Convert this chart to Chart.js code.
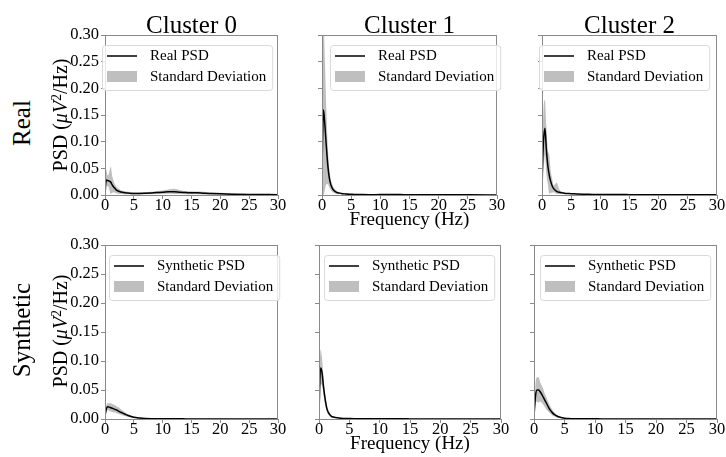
<!DOCTYPE html>
<html>
<head>
<meta charset="utf-8">
<script src="https://cdn.jsdelivr.net/npm/chart.js@4.4.1/dist/chart.umd.min.js"></script>
<style>
  body { margin: 0; background: #fff; }
  #fig { position: relative; width: 726px; height: 457px; overflow: hidden;
         font-family: "Liberation Serif", "Times New Roman", serif; color: #000; }
  #fig canvas { position: absolute; }
  .lbl { position: absolute; white-space: nowrap; line-height: 1; transform: translate(-50%, -50%); }
  .rot { transform: translate(-50%, -50%) rotate(-90deg); }
  .lbl sup { font-size: 0.68em; vertical-align: 0.45em; line-height: 0; }
</style>
</head>
<body>
<div id="fig"></div>
<script>
// frequency bins (Hz)
const freqs = [0, 0.25, 0.5, 0.75, 1, 1.25, 1.5, 1.75, 2, 2.5, 3, 3.5, 4, 5, 6, 7, 8, 9, 10,
  11, 12, 13, 14, 15, 16, 17, 18, 20, 22, 25, 30];

// Real PSD, mean and mean +/- std, per cluster
const real0Mean = [0.012, 0.028, 0.027, 0.026, 0.024, 0.019, 0.015, 0.012, 0.009, 0.0065, 0.005, 0.0042, 0.0037, 0.003, 0.003, 0.0033, 0.0038, 0.0045, 0.005,
  0.006, 0.006, 0.005, 0.0045, 0.004, 0.004, 0.0035, 0.003, 0.0022, 0.0016, 0.001, 0.0006];
const real0Upper = [0.05, 0.046, 0.036, 0.044, 0.053, 0.036, 0.026, 0.019, 0.015, 0.011, 0.008, 0.007, 0.006, 0.005, 0.005, 0.0055, 0.006, 0.0075, 0.0085,
  0.0105, 0.0115, 0.009, 0.0075, 0.007, 0.0065, 0.006, 0.005, 0.004, 0.003, 0.002, 0.001];
const real0Lower = [0, 0.01, 0.018, 0.01, 0.002, 0.004, 0.005, 0.004, 0.003, 0.002, 0.002, 0.0015, 0.0015, 0.001, 0.001, 0.0012, 0.0015, 0.0018, 0.002,
  0.0022, 0.002, 0.0018, 0.0016, 0.0014, 0.0013, 0.0011, 0.001, 0.0007, 0.0005, 0.0003, 0.0002];

const real1Mean = [0.05, 0.16, 0.13, 0.09, 0.055, 0.032, 0.02, 0.013, 0.009, 0.005, 0.0035, 0.0025, 0.002, 0.0012, 0.001, 0.0008, 0.0007, 0.0007, 0.0008,
  0.001, 0.0009, 0.0008, 0.0007, 0.0006, 0.0006, 0.0005, 0.0005, 0.0004, 0.0003, 0.0003, 0.0002];
const real1Upper = [0.1, 0.32, 0.25, 0.16, 0.09, 0.05, 0.03, 0.02, 0.014, 0.008, 0.005, 0.004, 0.003, 0.002, 0.0016, 0.0013, 0.0012, 0.0012, 0.0014,
  0.0018, 0.0016, 0.0014, 0.0012, 0.001, 0.001, 0.0009, 0.0008, 0.0007, 0.0005, 0.0005, 0.0003];
const real1Lower = [0, 0, 0.01, 0.02, 0.02, 0.014, 0.01, 0.006, 0.004, 0.002, 0.002, 0.001, 0.001, 0.0004, 0.0004, 0.0003, 0.0002, 0.0002, 0.0002,
  0.0002, 0.0002, 0.0002, 0.0002, 0.0002, 0.0002, 0.0001, 0.0001, 0.0001, 0.0001, 0.0001, 0.0001];

const real2Mean = [0.03, 0.1, 0.125, 0.085, 0.055, 0.037, 0.025, 0.017, 0.012, 0.007, 0.005, 0.004, 0.003, 0.0025, 0.0018, 0.0014, 0.0012, 0.0011, 0.001,
  0.001, 0.0009, 0.0008, 0.0008, 0.0007, 0.0007, 0.0006, 0.0006, 0.0005, 0.0004, 0.0004, 0.0003];
const real2Upper = [0.06, 0.16, 0.178, 0.13, 0.085, 0.075, 0.045, 0.03, 0.018, 0.023, 0.01, 0.006, 0.004, 0.003, 0.0025, 0.002, 0.0018, 0.0016, 0.0015,
  0.0015, 0.0013, 0.0012, 0.0012, 0.001, 0.001, 0.0009, 0.0009, 0.0007, 0.0006, 0.0006, 0.0004];
const real2Lower = [0, 0.04, 0.075, 0.04, 0.02, 0.002, 0.004, 0.004, 0.005, 0.002, 0.002, 0.002, 0.002, 0.0015, 0.0011, 0.0009, 0.0007, 0.0006, 0.0006,
  0.0005, 0.0005, 0.0005, 0.0004, 0.0004, 0.0004, 0.0003, 0.0003, 0.0003, 0.0002, 0.0002, 0.0002];

// Synthetic PSD
const syn0Mean = [0.006, 0.018, 0.021, 0.0205, 0.0195, 0.0185, 0.0175, 0.0165, 0.0155, 0.0128, 0.0105, 0.0082, 0.006, 0.003, 0.0017, 0.001, 0.0006, 0.0004, 0.0003,
  0.0003, 0.0003, 0.0003, 0.0002, 0.0002, 0.0002, 0.0002, 0.0002, 0.0002, 0.0001, 0.0001, 0.0001];
const syn0Upper = [0.01, 0.024, 0.027, 0.027, 0.027, 0.026, 0.025, 0.0235, 0.022, 0.019, 0.015, 0.011, 0.008, 0.004, 0.0025, 0.0015, 0.001, 0.0007, 0.0006,
  0.0005, 0.0005, 0.0005, 0.0004, 0.0004, 0.0004, 0.0003, 0.0003, 0.0003, 0.0002, 0.0002, 0.0002];
const syn0Lower = [0.003, 0.012, 0.015, 0.014, 0.013, 0.012, 0.0115, 0.011, 0.01, 0.008, 0.0065, 0.005, 0.0035, 0.0018, 0.001, 0.0005, 0.0003, 0.0002, 0.0001,
  0.0001, 0.0001, 0.0001, 0.0001, 0.0001, 0.0001, 0.0001, 0.0001, 0.0001, 0, 0, 0];

const syn1Mean = [0.01, 0.088, 0.08, 0.055, 0.035, 0.02, 0.012, 0.008, 0.005, 0.003, 0.002, 0.0015, 0.001, 0.0007, 0.0005, 0.0004, 0.0004, 0.0003, 0.0003,
  0.0003, 0.0003, 0.0003, 0.0003, 0.0002, 0.0002, 0.0002, 0.0002, 0.0002, 0.0002, 0.0001, 0.0001];
const syn1Upper = [0.02, 0.12, 0.105, 0.07, 0.045, 0.027, 0.016, 0.011, 0.007, 0.004, 0.0028, 0.002, 0.0015, 0.001, 0.0008, 0.0006, 0.0006, 0.0005, 0.0005,
  0.0005, 0.0005, 0.0004, 0.0004, 0.0004, 0.0003, 0.0003, 0.0003, 0.0003, 0.0003, 0.0002, 0.0002];
const syn1Lower = [0.003, 0.06, 0.058, 0.042, 0.026, 0.014, 0.008, 0.005, 0.003, 0.002, 0.0012, 0.0009, 0.0006, 0.0004, 0.0003, 0.0002, 0.0002, 0.0002, 0.0001,
  0.0001, 0.0001, 0.0001, 0.0001, 0.0001, 0.0001, 0.0001, 0.0001, 0.0001, 0.0001, 0, 0];

const syn2Mean = [0.005, 0.04, 0.05, 0.05, 0.047, 0.043, 0.038, 0.033, 0.028, 0.018, 0.011, 0.0065, 0.0038, 0.0013, 0.0006, 0.0004, 0.0003, 0.0003, 0.0003,
  0.0002, 0.0002, 0.0002, 0.0002, 0.0002, 0.0002, 0.0002, 0.0002, 0.0002, 0.0001, 0.0001, 0.0001];
const syn2Upper = [0.01, 0.06, 0.072, 0.072, 0.064, 0.058, 0.052, 0.044, 0.038, 0.026, 0.016, 0.009, 0.005, 0.002, 0.001, 0.0007, 0.0005, 0.0005, 0.0004,
  0.0004, 0.0004, 0.0003, 0.0003, 0.0003, 0.0003, 0.0003, 0.0003, 0.0003, 0.0002, 0.0002, 0.0002];
const syn2Lower = [0.002, 0.025, 0.03, 0.028, 0.03, 0.028, 0.025, 0.021, 0.017, 0.011, 0.006, 0.004, 0.002, 0.0007, 0.0003, 0.0002, 0.0002, 0.0001, 0.0001,
  0.0001, 0.0001, 0.0001, 0.0001, 0.0001, 0.0001, 0.0001, 0.0001, 0.0001, 0, 0, 0];

const colTitles = ['Cluster 0', 'Cluster 1', 'Cluster 2'];
const rowLabels = ['Real', 'Synthetic'];
const legendLabels = [['Real PSD', 'Standard Deviation'], ['Synthetic PSD', 'Standard Deviation']];
const xLabel = 'Frequency (Hz)';
const yLabelHtml = 'PSD (<i>\u03bcV</i><sup>2</sup>/Hz)';

const series = [
  [[real0Mean, real0Upper, real0Lower], [real1Mean, real1Upper, real1Lower], [real2Mean, real2Upper, real2Lower]],
  [[syn0Mean, syn0Upper, syn0Lower], [syn1Mean, syn1Upper, syn1Lower], [syn2Mean, syn2Upper, syn2Lower]]
];

// axes boxes in page pixels (left, top, right, bottom) and legend box left edge
const panels = [
  { row: 0, col: 0, l: 105, t: 35, r: 278, b: 195, legX: 102 },
  { row: 0, col: 1, l: 322, t: 35, r: 497, b: 195, legX: 330 },
  { row: 0, col: 2, l: 542, t: 35, r: 717, b: 195, legX: 539 },
  { row: 1, col: 0, l: 105, t: 245, r: 278, b: 419, legX: 109 },
  { row: 1, col: 1, l: 319, t: 245, r: 501, b: 419, legX: 324 },
  { row: 1, col: 2, l: 534, t: 245, r: 717, b: 419, legX: 540 }
];

const FONT = '"Liberation Serif", "Times New Roman", serif';
const SPINE = '#8a8a8a';
const BAND = 'rgba(128,128,128,0.5)';
const PAD_L = 55, PAD_T = 16, PAD_R = 14, PAD_B = 40;

const fig = document.getElementById('fig');

function addLabel(html, x, y, size, rotate) {
  const d = document.createElement('div');
  d.className = 'lbl' + (rotate ? ' rot' : '');
  d.style.left = x + 'px';
  d.style.top = y + 'px';
  d.style.fontSize = size + 'px';
  d.innerHTML = html;
  fig.appendChild(d);
}

// legend drawn inside the axes, matplotlib style
const psdLegend = {
  id: 'psdLegend',
  afterDraw(chart, args, opts) {
    const ctx = chart.ctx;
    const x = opts.x, y = opts.y;
    ctx.save();
    ctx.font = '15px ' + FONT;
    const w = 48 + Math.max(...opts.labels.map((s) => ctx.measureText(s).width)) + 6;
    const h = 45;
    ctx.beginPath();
    ctx.roundRect(x + 0.5, y + 0.5, w, h, 3);
    ctx.fillStyle = 'rgba(255,255,255,0.8)';
    ctx.fill();
    ctx.strokeStyle = '#d9d9d9';
    ctx.lineWidth = 1;
    ctx.stroke();
    ctx.beginPath();
    ctx.moveTo(x + 5, y + 11);
    ctx.lineTo(x + 35, y + 11);
    ctx.strokeStyle = '#000';
    ctx.lineWidth = 1.5;
    ctx.stroke();
    ctx.fillStyle = BAND;
    ctx.fillRect(x + 5, y + 26, 30, 11);
    ctx.fillStyle = '#000';
    ctx.textAlign = 'left';
    ctx.textBaseline = 'middle';
    ctx.fillText(opts.labels[0], x + 48, y + 11);
    ctx.fillText(opts.labels[1], x + 48, y + 32);
    ctx.restore();
  }
};

// four spines round the plot area
const frame = {
  id: 'frame',
  afterDatasetsDraw(chart) {
    const { ctx, chartArea: a } = chart;
    ctx.save();
    ctx.strokeStyle = SPINE;
    ctx.lineWidth = 1;
    ctx.strokeRect(a.left + 0.5, a.top + 0.5, a.right - a.left - 1, a.bottom - a.top);
    ctx.restore();
  }
};

const toPoints = (ys) => ys.map((y, i) => ({ x: freqs[i], y }));

panels.forEach((p) => {
  const [mean, upper, lower] = series[p.row][p.col];
  const cv = document.createElement('canvas');
  const cLeft = p.l - PAD_L, cTop = p.t - PAD_T;
  const w = p.r - p.l + PAD_L + PAD_R, h = p.b - p.t + PAD_T + PAD_B;
  cv.width = w; cv.height = h;
  cv.style.left = cLeft + 'px'; cv.style.top = cTop + 'px';
  cv.style.width = w + 'px'; cv.style.height = h + 'px';
  fig.appendChild(cv);

  const tickFont = { family: FONT, size: 16.5 };
  new Chart(cv, {
    type: 'line',
    data: {
      datasets: [
        { data: toPoints(mean), borderColor: '#000', borderWidth: 1.5, pointRadius: 0, fill: false, cubicInterpolationMode: 'monotone' },
        { data: toPoints(upper), borderColor: 'rgba(0,0,0,0)', borderWidth: 0, pointRadius: 0, backgroundColor: BAND, fill: '+1', cubicInterpolationMode: 'monotone' },
        { data: toPoints(lower), borderColor: 'rgba(0,0,0,0)', borderWidth: 0, pointRadius: 0, fill: false, cubicInterpolationMode: 'monotone' }
      ]
    },
    options: {
      responsive: false,
      animation: false,
      devicePixelRatio: 1,
      events: [],
      layout: { padding: { top: PAD_T, right: PAD_R, left: 0, bottom: 0 } },
      plugins: {
        legend: { display: false },
        tooltip: { enabled: false },
        psdLegend: { x: p.legX - cLeft, y: p.t + 10 - cTop, labels: legendLabels[p.row] }
      },
      scales: {
        x: {
          type: 'linear', min: 0, max: 30,
          ticks: { stepSize: 5, font: tickFont, color: '#000', padding: -3, maxRotation: 0 },
          grid: { drawOnChartArea: false, drawTicks: true, tickLength: 4, color: SPINE },
          border: { display: false },
          title: { display: p.col === 1, text: xLabel, color: '#000', font: { family: FONT, size: 19 }, padding: { top: 0, bottom: 3.6 } },
          afterFit: (s) => { s.height = PAD_B; }
        },
        y: {
          min: 0, max: 0.3,
          ticks: { stepSize: 0.05, font: tickFont, color: '#000', padding: 2,
            callback: (v) => (p.col === 0 ? v.toFixed(2) : '') },
          grid: { drawOnChartArea: false, drawTicks: true, tickLength: 4, color: SPINE },
          border: { display: false },
          afterFit: (s) => { s.width = PAD_L; }
        }
      }
    },
    plugins: [frame, psdLegend]
  });
});

// titles and row labels
const colCenters = [191.5, 409.5, 629.5];
colTitles.forEach((t, i) => addLabel(t, colCenters[i], 24, 25, false));
addLabel(rowLabels[0], 21, 123, 25, true);
addLabel(rowLabels[1], 21, 330, 25, true);
addLabel(yLabelHtml, 60, 115, 20, true);
addLabel(yLabelHtml, 60, 331, 20, true);
</script>
</body>
</html>
